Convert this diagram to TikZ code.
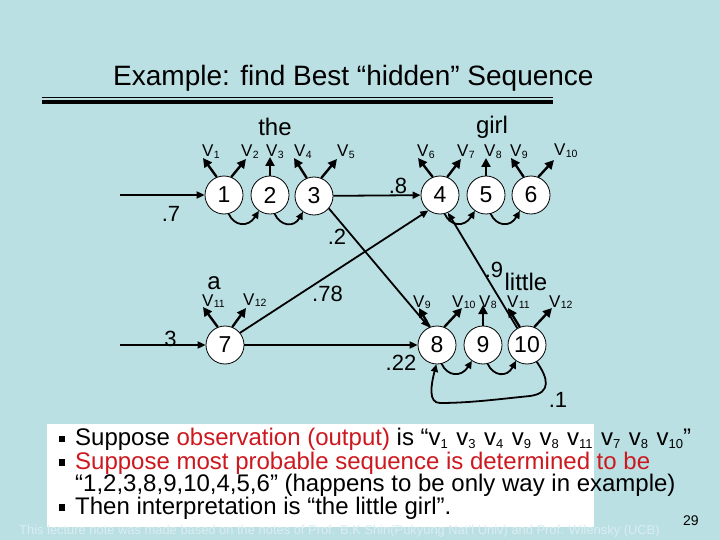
\documentclass[tikz,border=0pt]{standalone}
\usepackage{fontspec}
\setmainfont{Liberation Sans}
\usetikzlibrary{arrows.meta}
\definecolor{bg}{RGB}{187,224,227}
\definecolor{hred}{RGB}{204,24,30}
\definecolor{foot}{RGB}{218,237,241}
\newcommand{\fsz}[1]{\fontsize{#1}{#1}\selectfont}
\newcommand{\Vl}[1]{V\kern0.3pt\raisebox{-1.5pt}{\fsz{10.5}#1}}
\newcommand{\vsb}[1]{v\raisebox{-3pt}{\fsz{13}#1}}
\newcommand{\bulsq}{\raisebox{3.4pt}{\rule{6pt}{6.6pt}}}
\begin{document}
\begin{tikzpicture}[x=1pt,y=-1pt,
  st/.style={circle,draw=black,line width=0.8pt,fill=white,minimum size=38pt,inner sep=0pt,font=\fsz{23}},
  tr/.style={line width=1.8pt,-{Triangle[length=8pt,width=7pt]}},
  cv/.style={line width=1.8pt,-{Triangle[length=7.5pt,width=7pt]}},
  em/.style={line width=2.4pt,-{Triangle[length=9pt,width=9pt]}},
  vl/.style={inner sep=0pt,anchor=base west,font=\fsz{17}},
  pl/.style={inner sep=0pt,font=\fsz{22}},
  wd/.style={inner sep=0pt,font=\fsz{24}},
  tx/.style={inner sep=0pt,anchor=base west,font=\fsz{24}},
]
\useasboundingbox (0,0) rectangle (720,540);
\fill[bg] (0,0) rectangle (720,540);

% title
\node[inner sep=0pt,anchor=base west,font=\fsz{28}] (title) at (113,86) {Example: find Best “hidden” Sequence};
\draw[line width=1.1pt] (41.5,97.3) -- (553,97.3);
\draw[line width=4pt] (41.5,102) -- (553,102);

% states
\node[st] (n1) at (224,195) {1};
\node[st] (n2) at (270,195) {2};
\node[st] (n3) at (314,196) {3};
\node[st] (n4) at (440,195) {4};
\node[st] (n5) at (486,195) {5};
\node[st] (n6) at (531,195) {6};
\node[st] (n7) at (225,345) {7};
\node[st] (n8) at (437,345) {8};
\node[st] (n9) at (483,345) {9};
\node[st] (n10) at (527,345) {10};

% words
\node[wd] (wthe) at (275,127) {the};
\node[wd] (wgirl) at (492,127) {girl};
\node[wd] (wa) at (214,283) {a};
\node[wd] (wlittle) at (526,281.5) {little};

% output labels
\node[vl] (v1) at (202,157) {\Vl{1}};
\node[vl] (v2) at (241,157) {\Vl{2}};
\node[vl] (v3) at (266,157) {\Vl{3}};
\node[vl] (v4) at (294,157) {\Vl{4}};
\node[vl] (v5) at (337,157) {\Vl{5}};
\node[vl] (v6) at (417,157) {\Vl{6}};
\node[vl] (v7) at (457,157) {\Vl{7}};
\node[vl] (v8) at (484,157) {\Vl{8}};
\node[vl] (v9) at (510,157) {\Vl{9}};
\node[vl] (v10) at (554,156) {\Vl{10}};
\node[vl] (v11a) at (202,306) {\Vl{11}};
\node[vl] (v12a) at (243,305) {\Vl{12}};
\node[vl] (v9b) at (413,307) {\Vl{9}};
\node[vl] (v10b) at (452,307) {\Vl{10}};
\node[vl] (v8b) at (479,307) {\Vl{8}};
\node[vl] (v11b) at (507,307) {\Vl{11}};
\node[vl] (v12b) at (549,307) {\Vl{12}};

% emission arrow tips
\coordinate (t1a) at (203,158); \coordinate (t1b) at (246,159);
\coordinate (t2) at (270,157);
\coordinate (t3a) at (294,158); \coordinate (t3b) at (337,159);
\coordinate (t4a) at (418,158); \coordinate (t4b) at (461,159);
\coordinate (t5) at (486,158);
\coordinate (t6a) at (511,158); \coordinate (t6b) at (554,160);
\coordinate (t7a) at (203,307); \coordinate (t7b) at (246,308);
\coordinate (t8a) at (419,308); \coordinate (t8b) at (462,308);
\coordinate (t9) at (483,305);
\coordinate (t10a) at (508,308); \coordinate (t10b) at (552,308);

\draw[em] (n1.112) -- (t1a); \draw[em] (n1.68) -- (t1b);
\draw[em] (n2.north) -- (t2);
\draw[em] (n3.112) -- (t3a); \draw[em] (n3.68) -- (t3b);
\draw[em] (n4.112) -- (t4a); \draw[em] (n4.68) -- (t4b);
\draw[em] (n5.north) -- (t5);
\draw[em] (n6.112) -- (t6a); \draw[em] (n6.68) -- (t6b);
\draw[em] (n7.112) -- (t7a); \draw[em] (n7.68) -- (t7b);
\draw[em] (n8.112) -- (t8a); \draw[em] (n8.68) -- (t8b);
\draw[em] (n9.north) -- (t9);
\draw[em] (n10.112) -- (t10a); \draw[em] (n10.68) -- (t10b);

% self-chain curved arrows
\draw[cv] (n1.-76) .. controls (234,226) and (248,228) .. (n2.-125);
\draw[cv] (n2.-76) .. controls (280,226) and (294,228) .. (n3.-125);
\draw[cv] (n4.-76) .. controls (450,226) and (464,228) .. (n5.-125);
\draw[cv] (n5.-76) .. controls (496,226) and (510,228) .. (n6.-125);
\draw[cv] (n8.-76) .. controls (447,376) and (461,378) .. (n9.-125);
\draw[cv] (n9.-76) .. controls (493,376) and (507,378) .. (n10.-125);
\draw[cv] (n10.-60) .. controls (548,378) and (552,393) .. (530,396)
   .. controls (500,399) and (470,403) .. (440,403)
   .. controls (428,403) and (431,385) .. (n8.-92);

% transitions
\coordinate (s1) at (120,195);
\coordinate (s7) at (120,345);
\draw[tr] (s1) -- (n1);
\draw[tr] (s7) -- (n7);
\draw[tr] (n3) -- (n4);
\draw[tr] (n3.-40) -- (n8.114);
\draw[tr] (n7.39) -- (n4.-127);
\draw[tr] (n7) -- (n8);
\draw[tr] (n10.120) -- (n4.-66);

% probabilities
\node[pl] (p7) at (171,213.5) {.7};
\node[pl] (p3) at (170.5,339) {3};
\node[pl] (p8) at (398,185.5) {.8};
\node[pl] (p2) at (337,236.5) {.2};
\node[pl] (p78) at (327.5,293.5) {.78};
\node[pl] (p22) at (401,362.5) {.22};
\node[pl] (p9) at (494,270) {.9};
\node[pl] (p1) at (558,400) {.1};

% bottom text
\fill[white] (47,424) rectangle (594,527);
\node[tx] (l1) at (58.3,445.7) {\bulsq\hspace{10.7pt}Suppose {\color{hred}observation (output)} is “\vsb{1}\hspace{1.8pt} \vsb{3}\hspace{1.8pt} \vsb{4}\hspace{1.8pt} \vsb{9}\hspace{1.8pt} \vsb{8}\hspace{1.8pt} \vsb{11}\hspace{1.8pt} \vsb{7}\hspace{1.8pt} \vsb{8}\hspace{1.8pt} \vsb{10}”};
\node[tx] (l2) at (58.3,469) {\bulsq\hspace{10.7pt}{\color{hred}Suppose most probable sequence is determined to be}};
\node[tx] (l3) at (75,491.7) {“1,2,3,8,9,10,4,5,6” (happens to be only way in example)};
\node[tx] (l4) at (58.3,514.3) {\bulsq\hspace{10.7pt}Then interpretation is “the little girl”.};
\node[inner sep=0pt,anchor=base west,font=\fsz{12.9},text=foot] (foot) at (19,534) {This lecture note was made based on the notes of Prof. B.K Shin(Pukyung Nat'l Univ) and Prof. Wilensky (UCB)};
\node[inner sep=0pt,anchor=base west,font=\fsz{14}] (pg) at (683,525.5) {29};
\end{tikzpicture}
\end{document}
